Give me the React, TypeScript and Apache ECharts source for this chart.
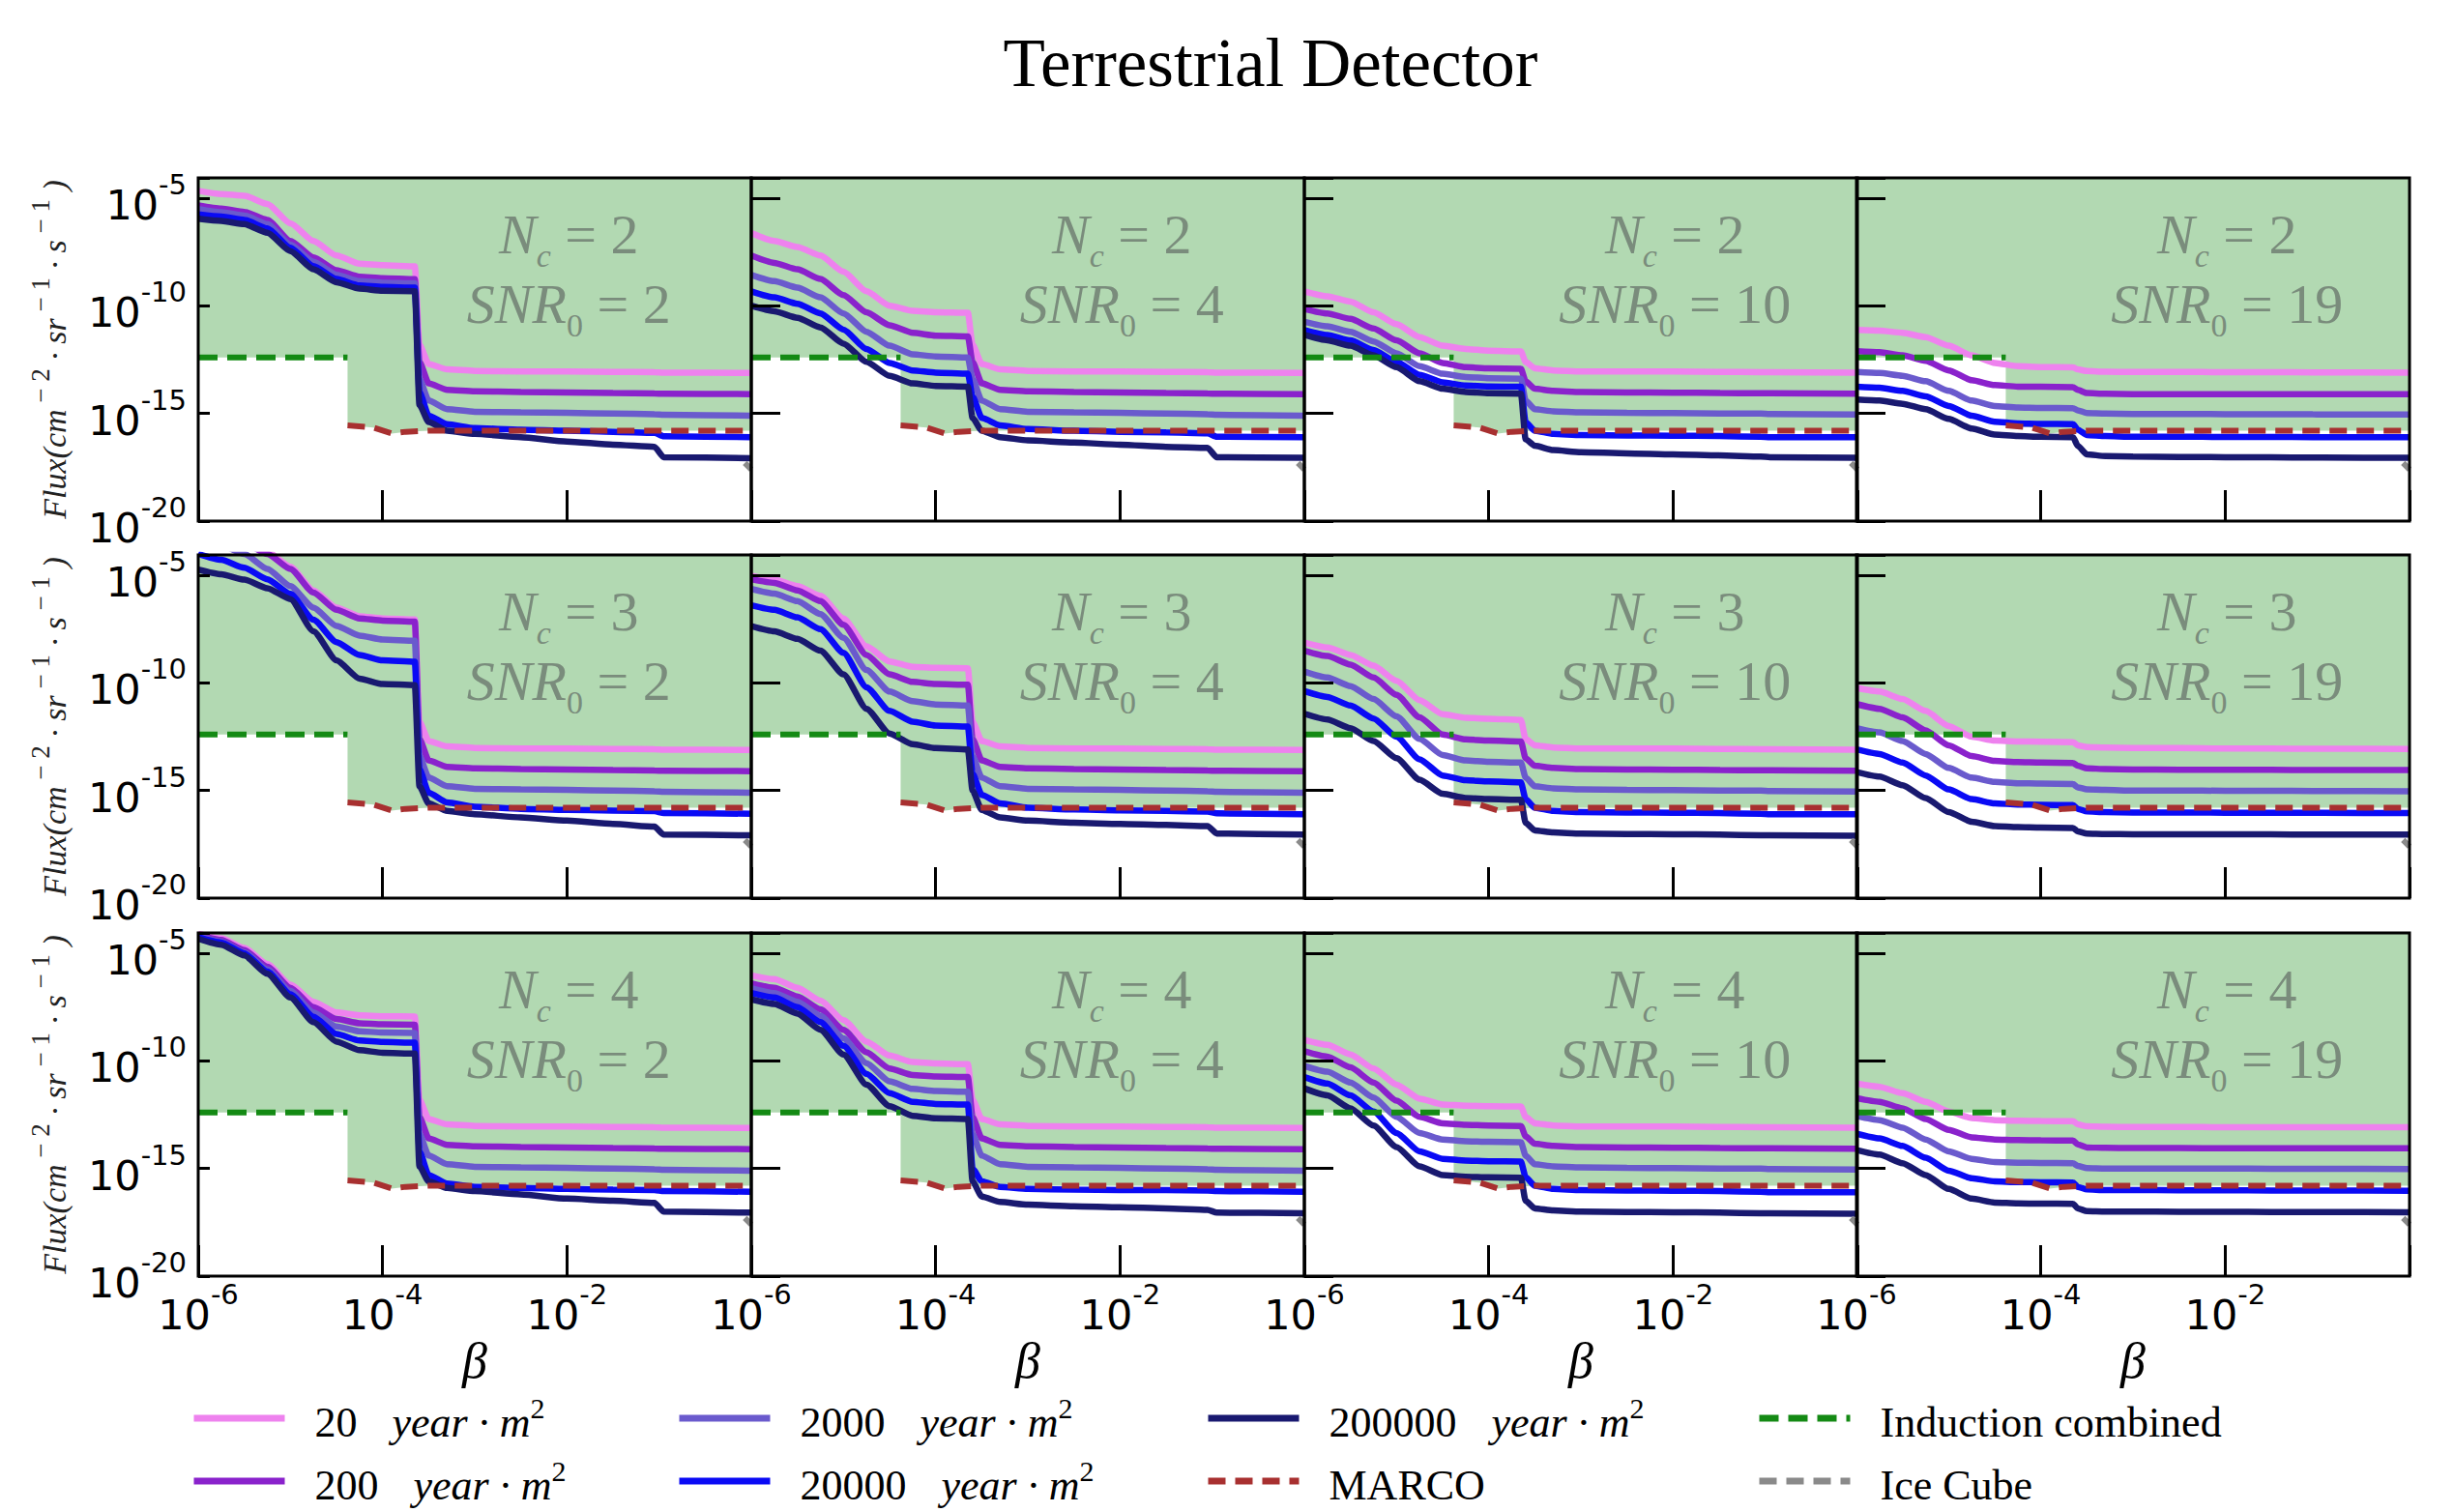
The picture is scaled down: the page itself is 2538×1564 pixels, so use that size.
import React, { useEffect, useRef } from 'react';
import * as echarts from 'echarts';

// ---- data (log10 exponents) ----
const X_EXP = [-6, -5.75, -5.5, -5.25, -5, -4.75, -4.5, -4.25, -4, -3.65, -3.6, -3.5, -3.3, -3, -2.5, -2, -1.5, -1.05, -0.95, 0];

const EXPOSURES = ['20', '200', '2000', '20000', '200000'];
const COLORS = ['#ee82ee', '#8a22cc', '#6a5acd', '#0a0af5', '#191970'];
const NC_VALUES = [2, 3, 4];
const SNR_VALUES = [2, 4, 10, 19];

const INDUCTION_X = [-6, -4.38];
const INDUCTION_Y = [-12.4, -12.4];
const MARCO_X = [-4.38, -4.1, -3.9, -3.75, -3.5, 0];
const MARCO_Y = [-15.55, -15.65, -15.93, -15.85, -15.8, -15.8];
const ICECUBE_X = [-0.07, 0];
const ICECUBE_Y = [-17.3, -17.6];

const Y_TICK_EXP = [-20, -15, -10, -5];
const X_TICK_EXP = [-6, -4, -2];

// after-drop shapes (columns 1-2, sharp drop)
const P_PINK = [-11.8, -12.7, -12.95, -13.02, -13.05, -13.05, -13.07, -13.08, -13.1, -13.12];
const P_PURPLE = [-12.6, -13.6, -13.9, -13.97, -14.0, -14.02, -14.05, -14.07, -14.08, -14.1];
const P_SLATE = [-13.4, -14.4, -14.8, -14.92, -14.95, -14.97, -15.0, -15.03, -15.06, -15.1];
// after-drop shapes (column 3)
const Q_PINK = [-12.6, -12.9, -13.0, -13.05, -13.05, -13.05, -13.07, -13.08, -13.08, -13.1];
const Q_PURPLE = [-13.5, -13.85, -13.95, -14.0, -14.02, -14.03, -14.05, -14.06, -14.06, -14.08];
const Q_SLATE = [-14.4, -14.8, -14.9, -14.95, -14.97, -14.98, -15.0, -15.0, -15.02, -15.05];
const Q_BLUE = [-15.4, -15.8, -15.95, -16.0, -16.02, -16.03, -16.05, -16.08, -16.1, -16.1];
const Q_NAVY = [-16.5, -16.85, -16.95, -17.0, -17.02, -17.03, -17.05, -17.08, -17.08, -17.1];

const NC2_SNR2 = [
  [-4.65, -4.8, -4.88, -5.26, -6.16, -6.98, -7.66, -8.04, -8.11, -8.16, ...P_PINK],
  [-5.33, -5.48, -5.63, -6.0, -6.98, -7.74, -8.34, -8.64, -8.71, -8.76, ...P_PURPLE],
  [-5.5, -5.65, -5.8, -6.2, -7.15, -7.95, -8.55, -8.85, -8.92, -8.95, ...P_SLATE],
  [-5.75, -5.85, -6.0, -6.4, -7.3, -8.15, -8.75, -9.05, -9.12, -9.15, -14.0, -15.1, -15.5, -15.68, -15.75, -15.8, -15.85, -15.9, -16.06, -16.1],
  [-5.95, -6.05, -6.2, -6.6, -7.45, -8.3, -8.9, -9.2, -9.3, -9.32, -14.6, -15.4, -15.8, -15.95, -16.1, -16.3, -16.45, -16.55, -17.03, -17.08],
];
const NC2_SNR4 = [
  [-6.61, -6.98, -7.26, -7.66, -8.41, -9.32, -9.99, -10.23, -10.29, -10.32, ...P_PINK],
  [-7.66, -8.0, -8.3, -8.75, -9.5, -10.3, -10.9, -11.25, -11.38, -11.42, ...P_PURPLE],
  [-8.56, -8.85, -9.15, -9.6, -10.35, -11.2, -11.85, -12.25, -12.35, -12.4, ...P_SLATE],
  [-9.32, -9.6, -9.9, -10.35, -11.1, -12.0, -12.65, -13.0, -13.1, -13.15, -14.2, -15.2, -15.55, -15.72, -15.8, -15.85, -15.88, -15.92, -16.08, -16.1],
  [-9.99, -10.25, -10.55, -11.0, -11.75, -12.6, -13.25, -13.6, -13.72, -13.75, -15.2, -15.8, -16.1, -16.25, -16.35, -16.45, -16.55, -16.6, -17.03, -17.06],
];
const NC2_SNR10 = [
  [-9.32, -9.55, -9.8, -10.3, -10.85, -11.45, -11.85, -12.0, -12.08, -12.12, ...Q_PINK],
  [-10.14, -10.35, -10.6, -11.05, -11.6, -12.2, -12.65, -12.85, -12.9, -12.92, ...Q_PURPLE],
  [-10.74, -10.95, -11.2, -11.65, -12.2, -12.8, -13.15, -13.3, -13.36, -13.38, ...Q_SLATE],
  [-11.12, -11.35, -11.6, -12.05, -12.6, -13.2, -13.55, -13.7, -13.74, -13.76, ...Q_BLUE],
  [-11.35, -11.6, -11.85, -12.3, -12.85, -13.5, -13.85, -14.0, -14.06, -14.08, -16.2, -16.5, -16.7, -16.8, -16.85, -16.9, -16.95, -17.0, -17.03, -17.06],
];
const NC2_SNR19 = [
  [-11.12, -11.15, -11.25, -11.45, -11.85, -12.3, -12.65, -12.8, -12.84, -12.86, -12.95, -13.03, -13.06, -13.07, -13.07, -13.08, -13.08, -13.09, -13.09, -13.1],
  [-12.1, -12.15, -12.3, -12.55, -13.0, -13.45, -13.68, -13.75, -13.76, -13.78, -13.9, -14.05, -14.08, -14.1, -14.1, -14.1, -14.1, -14.1, -14.1, -14.1],
  [-13.07, -13.12, -13.25, -13.5, -13.95, -14.4, -14.65, -14.72, -14.74, -14.75, -14.85, -14.98, -15.0, -15.02, -15.02, -15.03, -15.03, -15.04, -15.05, -15.05],
  [-13.75, -13.8, -13.95, -14.2, -14.65, -15.1, -15.38, -15.46, -15.48, -15.5, -15.75, -16.0, -16.05, -16.08, -16.08, -16.09, -16.09, -16.1, -16.1, -16.1],
  [-14.35, -14.4, -14.55, -14.8, -15.25, -15.7, -15.98, -16.05, -16.08, -16.1, -16.5, -16.9, -16.98, -17.0, -17.02, -17.03, -17.04, -17.05, -17.05, -17.06],
];
const NC3_SNR2 = [
  [-2.8, -3.1, -3.4, -3.9, -4.6, -5.7, -6.5, -6.9, -7.0, -7.05, ...P_PINK],
  [-2.9, -3.2, -3.5, -4.0, -4.7, -5.8, -6.6, -7.0, -7.1, -7.15, ...P_PURPLE],
  [-3.3, -3.6, -4.0, -4.7, -5.5, -6.5, -7.35, -7.8, -7.98, -8.04, ...P_SLATE],
  [-4.0, -4.28, -4.65, -5.18, -5.86, -7.06, -8.1, -8.7, -8.95, -9.02, -14.0, -15.1, -15.55, -15.75, -15.85, -15.9, -15.93, -15.96, -16.05, -16.08],
  [-4.73, -4.95, -5.2, -5.6, -6.1, -7.6, -8.95, -9.8, -10.05, -10.1, -14.8, -15.6, -15.95, -16.1, -16.25, -16.4, -16.55, -16.68, -17.05, -17.08],
];
const NC3_SNR4 = [
  [-5.03, -5.2, -5.5, -5.95, -7.0, -8.3, -9.0, -9.25, -9.3, -9.32, ...P_PINK],
  [-5.18, -5.35, -5.7, -6.2, -7.3, -8.7, -9.6, -9.95, -10.05, -10.08, ...P_PURPLE],
  [-5.63, -5.85, -6.2, -6.8, -7.9, -9.4, -10.4, -10.85, -11.0, -11.05, ...P_SLATE],
  [-6.39, -6.6, -6.95, -7.5, -8.6, -10.2, -11.3, -11.8, -11.98, -12.03, -14.2, -15.2, -15.6, -15.8, -15.88, -15.92, -15.95, -15.98, -16.06, -16.1],
  [-7.36, -7.6, -7.95, -8.5, -9.6, -11.2, -12.35, -12.85, -13.03, -13.09, -15.0, -15.9, -16.25, -16.4, -16.5, -16.55, -16.6, -16.65, -17.0, -17.05],
];
const NC3_SNR10 = [
  [-8.12, -8.35, -8.7, -9.2, -9.9, -10.8, -11.45, -11.62, -11.66, -11.72, ...Q_PINK],
  [-8.5, -8.75, -9.15, -9.75, -10.55, -11.6, -12.4, -12.62, -12.68, -12.72, ...Q_PURPLE],
  [-9.47, -9.75, -10.15, -10.75, -11.55, -12.6, -13.35, -13.6, -13.67, -13.7, ...Q_SLATE],
  [-10.38, -10.65, -11.05, -11.65, -12.5, -13.55, -14.3, -14.52, -14.58, -14.62, ...Q_BLUE],
  [-11.43, -11.7, -12.1, -12.7, -13.5, -14.5, -15.15, -15.35, -15.4, -15.43, ...Q_NAVY],
];
const NC3_SNR19 = [
  [-10.23, -10.4, -10.75, -11.3, -12.0, -12.5, -12.68, -12.72, -12.73, -12.75, -12.9, -12.98, -13.0, -13.02, -13.03, -13.05, -13.05, -13.06, -13.06, -13.07],
  [-10.98, -11.2, -11.6, -12.2, -12.9, -13.4, -13.62, -13.68, -13.7, -13.72, -13.85, -13.97, -14.0, -14.02, -14.03, -14.04, -14.04, -14.05, -14.05, -14.05],
  [-12.1, -12.3, -12.7, -13.3, -13.95, -14.4, -14.6, -14.66, -14.68, -14.7, -14.85, -14.95, -14.97, -15.0, -15.0, -15.01, -15.01, -15.02, -15.02, -15.03],
  [-13.09, -13.3, -13.7, -14.3, -14.95, -15.4, -15.6, -15.65, -15.66, -15.68, -15.85, -15.97, -16.0, -16.02, -16.02, -16.03, -16.03, -16.04, -16.04, -16.05],
  [-14.14, -14.35, -14.75, -15.35, -16.0, -16.45, -16.65, -16.7, -16.72, -16.74, -16.9, -17.0, -17.02, -17.03, -17.03, -17.04, -17.04, -17.05, -17.05, -17.05],
];
const NC4_SNR2 = [
  [-4.09, -4.3, -4.75, -5.5, -6.45, -7.25, -7.75, -7.88, -7.92, -7.94, ...P_PINK],
  [-4.15, -4.38, -4.85, -5.62, -6.6, -7.5, -8.05, -8.25, -8.3, -8.32, ...P_PURPLE],
  [-4.2, -4.45, -4.95, -5.75, -6.75, -7.75, -8.4, -8.62, -8.68, -8.7, ...P_SLATE],
  [-4.25, -4.5, -5.0, -5.85, -6.9, -7.95, -8.75, -9.05, -9.12, -9.15, -14.2, -15.3, -15.7, -15.85, -15.9, -15.95, -15.98, -16.0, -16.05, -16.08],
  [-4.32, -4.6, -5.1, -5.95, -7.05, -8.2, -9.1, -9.5, -9.62, -9.66, -14.9, -15.6, -15.9, -16.05, -16.2, -16.4, -16.5, -16.6, -17.0, -17.05],
];
const NC4_SNR4 = [
  [-6.02, -6.2, -6.6, -7.2, -8.1, -9.1, -9.75, -10.05, -10.12, -10.15, ...P_PINK],
  [-6.39, -6.6, -7.0, -7.6, -8.55, -9.6, -10.35, -10.65, -10.72, -10.75, ...P_PURPLE],
  [-6.62, -6.85, -7.25, -7.9, -8.95, -10.1, -10.95, -11.3, -11.4, -11.43, ...P_SLATE],
  [-6.84, -7.05, -7.5, -8.2, -9.3, -10.6, -11.5, -11.9, -12.0, -12.03, -15.0, -15.6, -15.85, -15.95, -15.98, -16.0, -16.0, -16.02, -16.05, -16.08],
  [-7.14, -7.35, -7.8, -8.55, -9.7, -11.1, -12.1, -12.55, -12.66, -12.7, -15.6, -16.3, -16.55, -16.68, -16.75, -16.8, -16.85, -16.92, -17.05, -17.08],
];
const NC4_SNR10 = [
  [-9.02, -9.25, -9.7, -10.35, -11.1, -11.75, -12.02, -12.08, -12.1, -12.12, ...Q_PINK],
  [-9.55, -9.8, -10.3, -11.0, -11.85, -12.6, -12.9, -12.97, -13.0, -13.02, ...Q_PURPLE],
  [-10.23, -10.5, -11.0, -11.7, -12.6, -13.35, -13.65, -13.73, -13.76, -13.78, ...Q_SLATE],
  [-10.75, -11.05, -11.6, -12.35, -13.35, -14.2, -14.55, -14.63, -14.66, -14.68, ...Q_BLUE],
  [-11.28, -11.6, -12.2, -13.0, -14.0, -14.9, -15.3, -15.38, -15.41, -15.43, ...Q_NAVY],
];
const NC4_SNR19 = [
  [-11.05, -11.2, -11.5, -11.9, -12.35, -12.65, -12.75, -12.78, -12.79, -12.8, -12.95, -13.04, -13.06, -13.07, -13.07, -13.08, -13.08, -13.08, -13.08, -13.08],
  [-11.73, -11.9, -12.2, -12.7, -13.2, -13.55, -13.65, -13.68, -13.69, -13.7, -13.88, -14.02, -14.04, -14.05, -14.05, -14.06, -14.06, -14.06, -14.06, -14.06],
  [-12.56, -12.75, -13.1, -13.65, -14.2, -14.55, -14.7, -14.73, -14.74, -14.75, -14.88, -14.98, -15.0, -15.0, -15.0, -15.0, -15.01, -15.01, -15.01, -15.02],
  [-13.38, -13.6, -13.95, -14.5, -15.1, -15.45, -15.6, -15.63, -15.64, -15.65, -15.85, -15.97, -16.0, -16.0, -16.01, -16.01, -16.02, -16.02, -16.02, -16.03],
  [-14.14, -14.35, -14.75, -15.3, -15.95, -16.4, -16.58, -16.62, -16.63, -16.64, -16.85, -16.98, -17.0, -17.0, -17.01, -17.01, -17.02, -17.02, -17.02, -17.03],
];

const PANELS = [
  NC2_SNR2, NC2_SNR4, NC2_SNR10, NC2_SNR19,
  NC3_SNR2, NC3_SNR4, NC3_SNR10, NC3_SNR19,
  NC4_SNR2, NC4_SNR4, NC4_SNR10, NC4_SNR19,
];

// ---- layout ----
const COL_LEFT = [205, 777, 1349, 1920];
const COL_W = 572;
const ROW_TOP = [184, 574, 965];
const ROW_H = 355;
const Y_MAX_EXP = -4.05;

const SERIF = 'Liberation Serif';
const SANS = 'DejaVu Sans';
const ANNOT_COLOR = '#7a8c7c';
const LINE_W = 6.5;

const toPts = (xs: number[], ys: number[]) => xs.map((x, i) => [Math.pow(10, x), Math.pow(10, ys[i])]);

const tickRich = {
  b: { fontFamily: SANS, fontSize: 43, color: '#000', padding: [14, 0, 0, 0] },
  s: { fontFamily: SANS, fontSize: 29, color: '#000', verticalAlign: 'top' },
};

function expLabel(v: number, allowed: number[]) {
  const e = Math.log10(v);
  const r = Math.round(e);
  if (Math.abs(e - r) > 1e-6 || allowed.indexOf(r) < 0) return '';
  return `{b|10}{s|${r}}`;
}

function buildOption() {
  const grid: any[] = [];
  const xAxis: any[] = [];
  const yAxis: any[] = [];
  const series: any[] = [];
  const graphic: any[] = [];

  const fillPts = toPts([...INDUCTION_X, ...MARCO_X], [...INDUCTION_Y, ...MARCO_Y]);

  const annRich = {
    i: { fontFamily: SERIF, fontStyle: 'italic', fontSize: 58, fill: ANNOT_COLOR, padding: [0, 0, 10, 0] },
    n: { fontFamily: SERIF, fontSize: 58, fill: ANNOT_COLOR, padding: [0, 0, 10, 0] },
    si: { fontFamily: SERIF, fontStyle: 'italic', fontSize: 34, fill: ANNOT_COLOR, verticalAlign: 'bottom' },
    sn: { fontFamily: SERIF, fontSize: 34, fill: ANNOT_COLOR, verticalAlign: 'bottom' },
  };

  for (let r = 0; r < 3; r++) {
    for (let c = 0; c < 4; c++) {
      const p = r * 4 + c;
      grid.push({
        left: COL_LEFT[c], top: ROW_TOP[r], width: COL_W, height: ROW_H,
        show: true, borderColor: '#000', borderWidth: 3, backgroundColor: 'transparent', z: 10,
      });
      xAxis.push({
        type: 'log', logBase: 10, gridIndex: p,
        min: 1e-6, max: 1, interval: 2,
        axisLine: { show: false },
        splitLine: { show: false },
        axisTick: { show: true, inside: true, length: 32, lineStyle: { color: '#000', width: 3 } },
        axisLabel: {
          show: r === 2, margin: 4, showMinLabel: true, showMaxLabel: true,
          formatter: (v: number) => expLabel(v, X_TICK_EXP), rich: tickRich,
        },
        name: r === 2 ? 'β' : '',
        nameLocation: 'middle', nameGap: 36,
        nameTextStyle: { fontFamily: SERIF, fontStyle: 'italic', fontSize: 52, color: '#000' },
        z: 10,
      });
      yAxis.push({
        type: 'log', logBase: 10, gridIndex: p,
        min: 1e-20, max: Math.pow(10, Y_MAX_EXP), interval: 5,
        axisLine: { show: false },
        splitLine: { show: false },
        axisTick: { show: true, inside: true, length: c === 0 ? 12 : 30, lineStyle: { color: '#000', width: 3 } },
        axisLabel: {
          show: c === 0, margin: 12, showMinLabel: true, showMaxLabel: true,
          formatter: (v: number) => expLabel(v, Y_TICK_EXP), rich: tickRich,
        },
        name: c === 0 ? '{i|Flux(cm}{s| − 2}{i| · sr}{s| − 1}{i| · s}{s| − 1}{i| )}' : '',
        nameLocation: 'middle', nameRotate: 90, nameGap: 132,
        nameTextStyle: {
          rich: {
            i: { fontFamily: SERIF, fontStyle: 'italic', fontSize: 34, color: '#222', padding: [11, 0, 0, 0] },
            s: { fontFamily: SERIF, fontSize: 27, color: '#222', verticalAlign: 'top' },
          },
        },
        z: 10,
      });

      // green excluded region above existing limits
      series.push({
        type: 'line', xAxisIndex: p, yAxisIndex: p, data: fillPts,
        symbol: 'none', silent: true, z: 1,
        lineStyle: { width: 0, opacity: 0 },
        areaStyle: { color: 'rgba(0,128,0,0.3)', origin: 'end', opacity: 1 },
      });
      EXPOSURES.forEach((name, k) => {
        series.push({
          type: 'line', name, xAxisIndex: p, yAxisIndex: p,
          data: toPts(X_EXP, PANELS[p][k]),
          symbol: 'none', smooth: 0.2, smoothMonotone: 'x', silent: true, z: 2,
          lineStyle: { color: COLORS[k], width: LINE_W },
          itemStyle: { color: COLORS[k] },
        });
      });
      series.push({
        type: 'line', name: 'Induction combined', xAxisIndex: p, yAxisIndex: p,
        data: toPts(INDUCTION_X, INDUCTION_Y), symbol: 'none', silent: true, z: 3,
        lineStyle: { color: '#148a14', width: 6, type: [20, 10] }, itemStyle: { color: '#148a14' },
      });
      series.push({
        type: 'line', name: 'MARCO', xAxisIndex: p, yAxisIndex: p,
        data: toPts(MARCO_X, MARCO_Y), symbol: 'none', silent: true, z: 3,
        lineStyle: { color: '#a83030', width: 6, type: [18, 10] }, itemStyle: { color: '#a83030' },
      });
      series.push({
        type: 'line', name: 'Ice Cube', xAxisIndex: p, yAxisIndex: p,
        data: toPts(ICECUBE_X, ICECUBE_Y), symbol: 'none', silent: true, z: 3,
        lineStyle: { color: '#8a8a8a', width: 6, type: [18, 10] }, itemStyle: { color: '#8a8a8a' },
      });

      const cx = COL_LEFT[c] + COL_W * 0.67;
      graphic.push({
        type: 'text', x: cx, y: ROW_TOP[r] + 63, z: 20, silent: true,
        style: { text: `{i|N}{si|c}{n| = ${NC_VALUES[r]}}`, align: 'center', verticalAlign: 'middle', rich: annRich, fill: ANNOT_COLOR },
      });
      graphic.push({
        type: 'text', x: cx, y: ROW_TOP[r] + 135, z: 20, silent: true,
        style: { text: `{i|SNR}{sn|0}{n| = ${SNR_VALUES[c]}}`, align: 'center', verticalAlign: 'middle', rich: annRich, fill: ANNOT_COLOR },
      });
    }
  }

  graphic.push({
    type: 'text', x: 1314, y: 65, silent: true,
    style: { text: 'Terrestrial Detector', align: 'center', verticalAlign: 'middle', fontFamily: SERIF, fontSize: 71, fill: '#000' },
  });

  const legendRich = {
    n: { fontFamily: SERIF, fontSize: 44, color: '#000', lineHeight: 52, padding: [8, 0, 0, 0] },
    i: { fontFamily: SERIF, fontStyle: 'italic', fontSize: 44, color: '#000', lineHeight: 52, padding: [8, 0, 0, 36] },
    s: { fontFamily: SERIF, fontSize: 30, color: '#000', verticalAlign: 'top' },
  };
  const legendFormatter = (name: string) =>
    EXPOSURES.indexOf(name) >= 0 ? `{n|${name}}{i|year · m}{s|2}` : `{n|${name}}`;
  const legendBase = {
    orient: 'vertical', top: 1441, itemGap: 13, itemWidth: 94, itemHeight: 20,
    padding: 0, selectedMode: false, formatter: legendFormatter,
    itemStyle: { opacity: 0 },
    lineStyle: { width: 7 },
    textStyle: { rich: legendRich, padding: [0, 0, 0, 26] },
  };
  const legend = [
    { ...legendBase, left: 197, data: ['20', '200'] },
    { ...legendBase, left: 699, data: ['2000', '20000'] },
    { ...legendBase, left: 1246, data: ['200000', 'MARCO'] },
    { ...legendBase, left: 1816, data: ['Induction combined', 'Ice Cube'] },
  ];

  return { animation: false, backgroundColor: '#fff', grid, xAxis, yAxis, series, graphic, legend };
}

export default function App() {
  const ref = useRef<HTMLDivElement>(null);
  useEffect(() => {
    document.body.style.margin = '0';
    if (!ref.current) return;
    const chart = echarts.init(ref.current, undefined, { renderer: 'svg' });
    chart.setOption(buildOption() as any);
    return () => chart.dispose();
  }, []);
  return <div ref={ref} style={{ width: 2538, height: 1564 }} />;
}
